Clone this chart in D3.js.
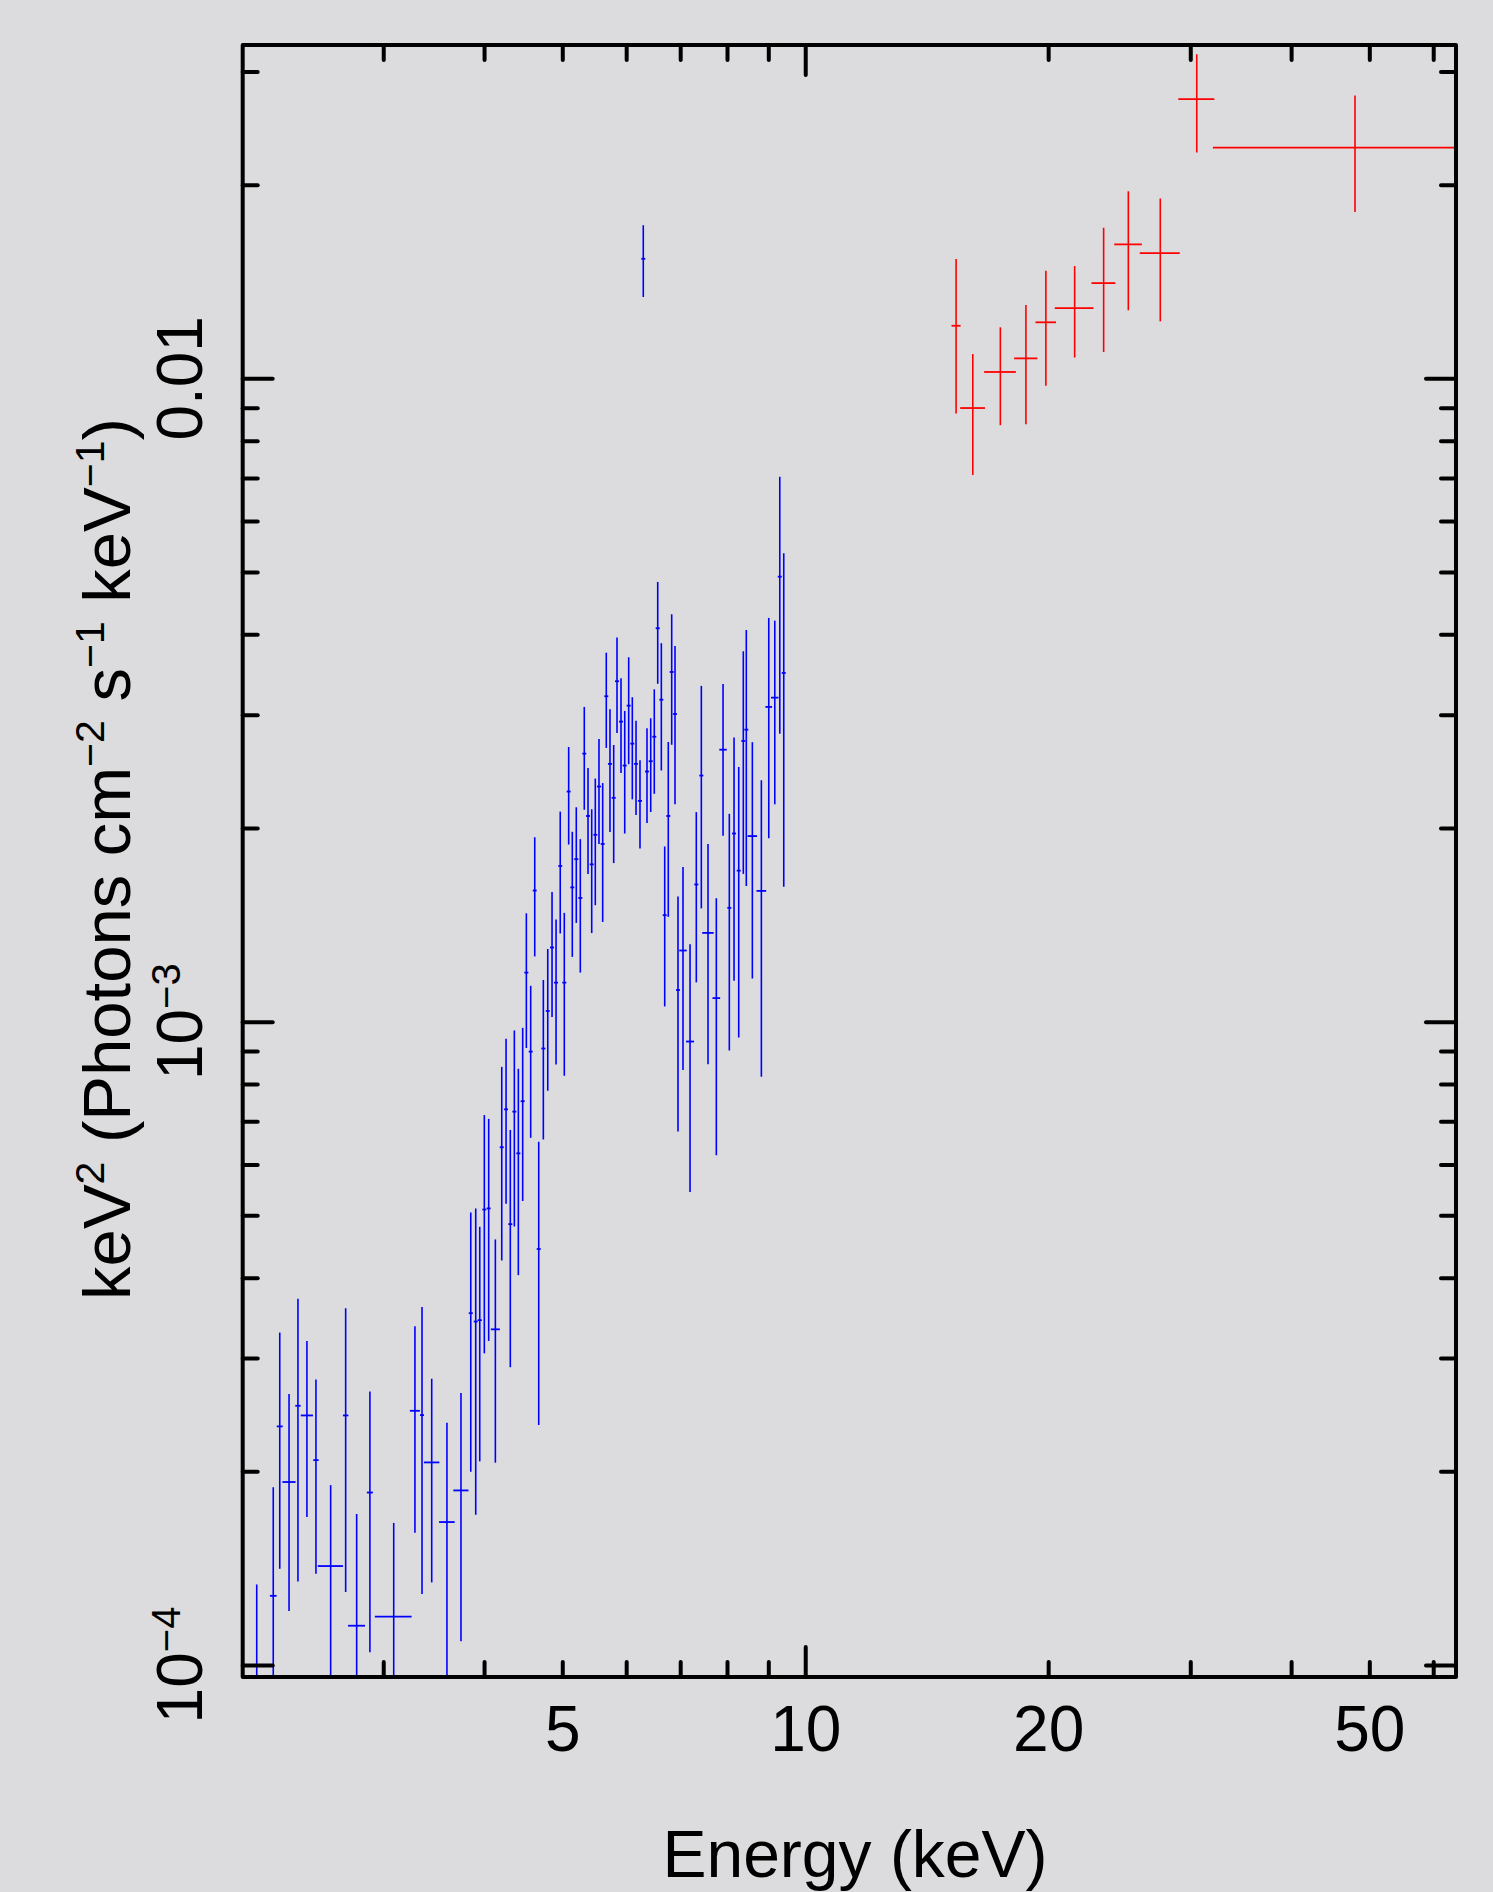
<!DOCTYPE html>
<html><head><meta charset="utf-8">
<script src="https://cdn.jsdelivr.net/npm/d3@7"></script>
<style>
html,body{margin:0;padding:0;background:#dcdcde;}
svg{display:block;}
text{font-family:"Liberation Sans", Arial, Helvetica, sans-serif; fill:#000;}
</style></head><body>
<script>
// ---- data ----
const blueEnergy = [2.091,2.192,2.233,2.293,2.352,2.413,2.476,2.582,2.695,2.781,2.888,3.091,3.284,3.351,3.445,3.598,3.745,
  3.851,3.906,3.951,4.003,4.053,4.131,4.207,4.259,4.311,4.361,4.411,4.466,4.513,4.569,4.622,4.675,4.737,4.797,4.856,4.912,
  4.971,5.029,5.092,5.145,5.204,5.264,5.324,5.381,5.438,5.494,5.552,5.611,5.669,5.729,5.790,5.845,5.912,5.975,6.043,6.106,
  6.171,6.241,6.300,6.367,6.435,6.501,6.565,6.633,6.697,6.766,6.832,6.897,6.956,7.056,7.199,7.329,7.435,7.578,7.760,7.910,
  8.053,8.162,8.272,8.381,8.453,8.600,8.824,9.012,9.168,9.300,9.406];
const blueHalfWidth = [0.081,0.021,0.019,0.043,0.018,0.042,0.019,0.093,0.021,0.067,0.025,0.162,0.047,0.019,0.076,0.080,0.081,
  0.022,0.022,0.023,0.023,0.023,0.053,
  0.024,0.024,0.025,0.025,0.025,0.026,0.026,0.026,0.026,0.027,0.027,0.027,0.028,0.028,
  0.028,0.029,0.029,0.029,0.030,0.030,0.030,0.031,0.031,0.031,0.032,0.032,
  0.032,0.033,0.033,0.033,0.034,0.034,0.035,0.035,0.035,0.036,0.036,0.036,0.037,0.037,0.038,0.038,0.038,0.039,0.039,0.039,0.040,
  0.075,0.083,0.042,0.043,0.124,0.085,0.084,0.046,0.047,0.047,0.048,0.048,0.116,0.122,0.086,0.097,0.053,0.054];
const blueValue = [9.6e-5,1.281e-4,2.349e-4,1.925e-4,2.529e-4,2.443e-4,2.082e-4,1.425e-4,2.443e-4,1.151e-4,1.854e-4,1.189e-4,
  2.484e-4,2.446e-4,2.065e-4,1.668e-4,1.868e-4,
  3.523e-4,3.419e-4,3.436e-4,5.105e-4,5.126e-4,3.325e-4,6.380e-4,7.307e-4,4.845e-4,7.247e-4,6.242e-4,7.522e-4,1.192e-3,
  8.984e-4,1.599e-3,4.432e-4,9.084e-4,1.039e-3,1.304e-3,1.150e-3,1.746e-3,1.150e-3,2.279e-3,1.617e-3,1.789e-3,1.557e-3,
  2.610e-3,2.088e-3,1.756e-3,1.952e-3,2.320e-3,1.889e-3,3.205e-3,2.516e-3,2.228e-3,3.382e-3,2.927e-3,2.501e-3,3.099e-3,
  2.705e-3,2.516e-3,2.204e-3,1.534e-2,2.448e-3,2.540e-3,2.773e-3,4.088e-3,3.166e-3,1.464e-3,2.088e-3,3.496e-3,3.008e-3,
  1.120e-3,1.290e-3,9.314e-4,1.634e-3,2.413e-3,1.374e-3,1.088e-3,2.647e-3,1.503e-3,1.961e-3,1.717e-3,2.731e-3,2.844e-3,
  1.943e-3,1.597e-3,3.085e-3,3.189e-3,4.917e-3,3.484e-3];
const blueError = [3.74e-5,6.09e-5,9.38e-5,7.12e-5,1.181e-4,7.45e-5,6.96e-5,4.79e-5,1.144e-4,5.66e-5,8.07e-5,4.74e-5,8.79e-5,
  1.157e-4,7.21e-5,7.12e-5,7.79e-5,
  1.526e-4,1.707e-4,1.363e-4,2.054e-4,1.936e-4,1.262e-4,2.126e-4,2.096e-4,1.942e-4,2.443e-4,2.206e-4,2.259e-4,2.82e-4,
  2.386e-4,3.36e-4,2.072e-4,2.524e-4,2.58e-4,2.87e-4,2.92e-4,3.75e-4,3.26e-4,3.94e-4,3.56e-4,3.65e-4,3.65e-4,4.75e-4,
  3.92e-4,3.83e-4,4.35e-4,4.31e-4,4.60e-4,5.41e-4,5.44e-4,4.64e-4,5.72e-4,4.92e-4,5.40e-4,5.86e-4,4.89e-4,4.21e-4,3.45e-4,
  1.96e-3,4.11e-4,4.22e-4,5.13e-4,7.37e-4,7.09e-4,4.08e-4,6.33e-4,8.02e-4,8.30e-4,4.45e-4,4.49e-4,3.88e-4,4.83e-4,9.13e-4,
  5.15e-4,4.68e-4,7.02e-4,6.01e-4,8.03e-4,7.72e-4,1.034e-3,1.219e-3,7.76e-4,7.76e-4,1.157e-3,1.012e-3,2.115e-3,1.863e-3];

const redEnergy = [15.38,16.13,17.45,18.77,19.87,21.57,23.43,25.14,27.54,30.56,48.0];
const redHalfWidth = [0.20,0.57,0.79,0.62,0.58,1.19,0.80,0.99,1.57,1.57,16.0];
const redValue = [0.01207,0.008991,0.01023,0.01074,0.01222,0.01286,0.01406,0.01615,0.01565,0.02716,0.02283];
const redError = [0.003255,0.001917,0.001774,0.002258,0.002478,0.002087,0.003075,0.003391,0.003389,0.004729,0.0047];

const xMajorTicks = [10];
const xMinorTicks = [3,4,5,6,7,8,9,20,30,40,50,60];
const xTickLabels = [5,10,20,50];
const yMajorTicks = [1e-4,1e-3,1e-2];
const yMinorTicks = [2e-4,3e-4,4e-4,5e-4,6e-4,7e-4,8e-4,9e-4,2e-3,3e-3,4e-3,5e-3,6e-3,7e-3,8e-3,9e-3,2e-2,3e-2];
const yTickValues = [1e-4,1e-3,1e-2];
const yTickBase = ["10","10","0.01"];
const yTickExp = ["\u22124","\u22123",""];

// ---- layout ----
const W = 1493, H = 1892;
const plot = {left:242.7, right:1456, top:45, bottom:1677};

const svg = d3.select("body").append("svg").attr("width", W).attr("height", H);
svg.append("rect").attr("width", W).attr("height", H).attr("fill", "#dcdcde");

const x = d3.scaleLog().domain([2.009, 64.03]).range([plot.left, plot.right]);
const y = d3.scaleLog().domain([9.58e-5, 0.03297]).range([plot.bottom, plot.top]);

svg.append("clipPath").attr("id","clip").append("rect")
  .attr("x", plot.left).attr("y", plot.top)
  .attr("width", plot.right - plot.left).attr("height", plot.bottom - plot.top);

function drawSeries(E, dE, V, err, color) {
  const data = E.map((e,i)=>({e, de:dE[i], v:V[i], er:err[i]}));
  const g = svg.append("g").attr("clip-path","url(#clip)");
  g.selectAll("line.v").data(data).join("line").attr("class","v")
    .attr("x1", d=>x(d.e)).attr("x2", d=>x(d.e))
    .attr("y1", d=>y(d.v + d.er))
    .attr("y2", d=> d.v - d.er > 1e-7 ? y(d.v - d.er) : plot.bottom + 20)
    .attr("stroke", color).attr("stroke-width", 1.6);
  g.selectAll("line.h").data(data).join("line").attr("class","h")
    .attr("x1", d=>x(d.e - d.de)).attr("x2", d=>x(d.e + d.de))
    .attr("y1", d=>y(d.v)).attr("y2", d=>y(d.v))
    .attr("stroke", color).attr("stroke-width", 1.8);
}
drawSeries(blueEnergy, blueHalfWidth, blueValue, blueError, "#0000ff");
drawSeries(redEnergy, redHalfWidth, redValue, redError, "#ff0000");

// ---- axes (ticks inward on all four sides) ----
function styleAxis(g){
  g.select(".domain").remove();
  g.selectAll(".tick line").attr("stroke","#000").attr("stroke-width",4).attr("stroke-linecap","round");
  g.selectAll(".tick text").remove();
}
const axes = [
  [d3.axisBottom, x, `translate(0,${plot.bottom})`],
  [d3.axisTop, x, `translate(0,${plot.top})`],
  [d3.axisLeft, y, `translate(${plot.left},0)`],
  [d3.axisRight, y, `translate(${plot.right},0)`]
];
axes.forEach(([fn, sc, tr]) => {
  const isX = sc === x;
  const minor = isX ? xMinorTicks : yMinorTicks;
  const major = isX ? xMajorTicks : yMajorTicks;
  svg.append("g").attr("transform", tr).call(fn(sc).tickValues(minor).tickSize(-15).tickFormat("")).call(styleAxis);
  svg.append("g").attr("transform", tr).call(fn(sc).tickValues(major).tickSize(-30).tickFormat("")).call(styleAxis);
});

// frame
svg.append("rect").attr("x", plot.left).attr("y", plot.top)
  .attr("width", plot.right - plot.left).attr("height", plot.bottom - plot.top)
  .attr("fill","none").attr("stroke","#000").attr("stroke-width",4).attr("stroke-linejoin","round");

// x tick labels
const xl = svg.append("g").attr("transform", `translate(0,${plot.bottom})`)
  .call(d3.axisBottom(x).tickValues(xTickLabels).tickSize(0).tickPadding(29).tickFormat(d3.format("d")));
xl.select(".domain").remove();
xl.selectAll("text").attr("font-size", 64).attr("font-family", '"Liberation Sans", Arial, sans-serif').attr("fill","#000");

// y tick labels (rotated)
yTickValues.forEach((v,i) => {
  const t = svg.append("text")
    .attr("transform", `translate(202,${y(v)}) rotate(-90)`)
    .attr("text-anchor","middle").attr("font-size",64);
  t.append("tspan").text(yTickBase[i]);
  if (yTickExp[i]) t.append("tspan").attr("dy",-22).attr("font-size",40).text(yTickExp[i]);
});

// axis titles
svg.append("text").attr("x", 855).attr("y", 1877).attr("text-anchor","middle")
  .attr("font-size", 66).text("Energy (keV)");

const yl = svg.append("text").attr("transform", `translate(130,${(plot.top+plot.bottom)/2 - 2}) rotate(-90)`)
  .attr("text-anchor","middle").attr("font-size", 67);
const parts = [["keV",0],["2",1],[" (Photons cm",0],["\u22122",1],[" s",0],["\u22121",1],[" keV",0],["\u22121",1],[")",0]];
let raised = false;
parts.forEach(([s, sup]) => {
  const ts = yl.append("tspan").text(s);
  if (sup) { ts.attr("font-size", 41).attr("dy", raised ? 0 : -26); raised = true; }
  else { if (raised) ts.attr("dy", 26); raised = false; }
});
</script>
</body></html>
